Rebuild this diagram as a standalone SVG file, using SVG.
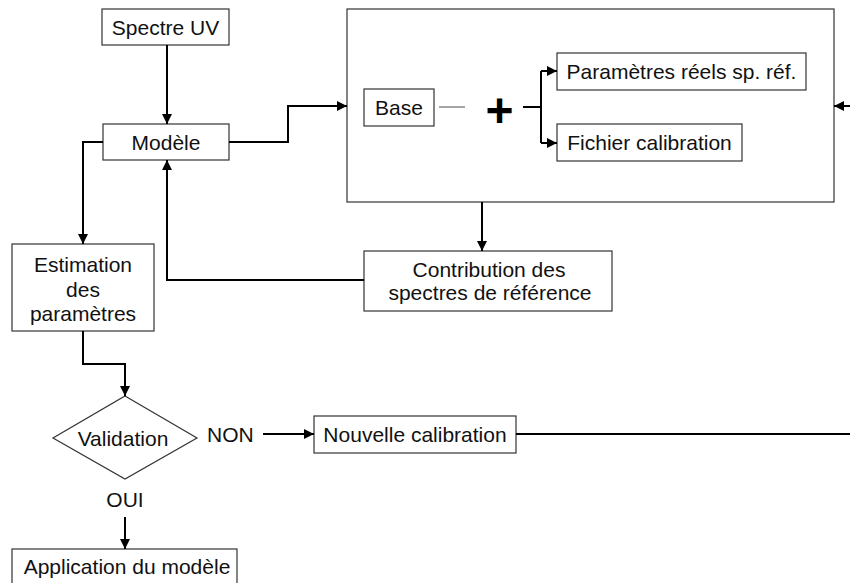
<svg xmlns="http://www.w3.org/2000/svg" width="850" height="583" viewBox="0 0 850 583">
  <style>
    .box { fill: #fff; stroke: #333; stroke-width: 1.2; }
    .lbl { font-family: "Liberation Sans", Arial, sans-serif; font-size: 21px; fill: #111; text-anchor: middle; }
    .lbl-l { font-family: "Liberation Sans", Arial, sans-serif; font-size: 21px; fill: #111; }
    .wire { fill: none; stroke: #000; stroke-width: 2; }
    .arr { fill: none; stroke: #000; stroke-width: 2; marker-end: url(#head); }
  </style>
  <defs>
    <marker id="head" viewBox="0 0 10 10" refX="10" refY="5" markerWidth="5" markerHeight="5" orient="auto" markerUnits="strokeWidth">
      <path d="M0,0 L10,5 L0,10 z" fill="#000"/>
    </marker>
  </defs>
  <rect width="850" height="583" fill="#fff"/>

  <!-- calibration block -->
  <g id="calib-block">
    <rect class="box" x="347" y="9" width="487" height="193"/>
  </g>
  <g id="base">
    <rect class="box" x="364" y="89" width="70" height="37"/>
    <text class="lbl" x="399" y="115">Base</text>
  </g>
  <g id="plus">
    <line x1="439" y1="107" x2="465" y2="107" stroke="#888" stroke-width="1.5"/>
    <text x="499.5" y="127" font-family="Liberation Sans, Arial, sans-serif" font-size="48" font-weight="bold" text-anchor="middle" fill="#000">+</text>
  </g>
  <g id="params-reels">
    <rect class="box" x="557" y="53" width="249" height="37"/>
    <text class="lbl" x="681.5" y="79">Paramètres réels sp. réf.</text>
  </g>
  <g id="fichier-calib">
    <rect class="box" x="557" y="124" width="185" height="37"/>
    <text class="lbl" x="649.5" y="150">Fichier calibration</text>
  </g>

  <g id="spectre-uv">
    <rect class="box" x="102" y="9" width="127" height="36"/>
    <text class="lbl" x="165.5" y="34.5">Spectre UV</text>
  </g>
  <g id="modele">
    <rect class="box" x="103" y="124" width="126" height="36"/>
    <text class="lbl" x="166" y="149.5">Modèle</text>
  </g>
  <g id="contribution">
    <rect class="box" x="364" y="251" width="248" height="60"/>
    <text class="lbl" x="489" y="277" font-size="20.5">Contribution des</text>
    <text class="lbl" x="490" y="300" font-size="20.5">spectres de référence</text>
  </g>
  <g id="estimation">
    <rect class="box" x="12" y="244" width="142" height="87"/>
    <text class="lbl" x="83" y="272">Estimation</text>
    <text class="lbl" x="83" y="296.5">des</text>
    <text class="lbl" x="83" y="321">paramètres</text>
  </g>
  <g id="validation">
    <polygon class="box" points="125,396 197,438 125,479 53,438"/>
    <text class="lbl" x="123" y="446">Validation</text>
  </g>
  <g id="nouvelle-calib">
    <rect class="box" x="314" y="416" width="202" height="37"/>
    <text class="lbl" x="415" y="442">Nouvelle calibration</text>
  </g>
  <g id="application">
    <rect class="box" x="12" y="549" width="225" height="45"/>
    <text class="lbl" x="127" y="573.5">Application du modèle</text>
  </g>

  <g id="connectors">
    <path class="arr" d="M167,45 V124"/>
    <path class="arr" d="M229,142 H288 V106 H347"/>
    <path class="wire" d="M523,107 H541"/>
    <path class="wire" d="M541,71 V143"/>
    <path class="arr" d="M541,71 H557"/>
    <path class="arr" d="M541,143 H557"/>
    <path class="arr" d="M850,106 H834"/>
    <path class="arr" d="M482,202 V251"/>
    <path class="arr" d="M364,280 H167 V160"/>
    <path class="arr" d="M103,142 H83 V244"/>
    <path class="arr" d="M83,331 V364 H125 V396"/>
    <path class="arr" d="M263,434 H314"/>
    <path class="wire" d="M516,434 H850"/>
    <path class="arr" d="M125,517 V549"/>
    <text class="lbl-l" x="207" y="442">NON</text>
    <text class="lbl" x="125" y="507">OUI</text>
  </g>
</svg>
